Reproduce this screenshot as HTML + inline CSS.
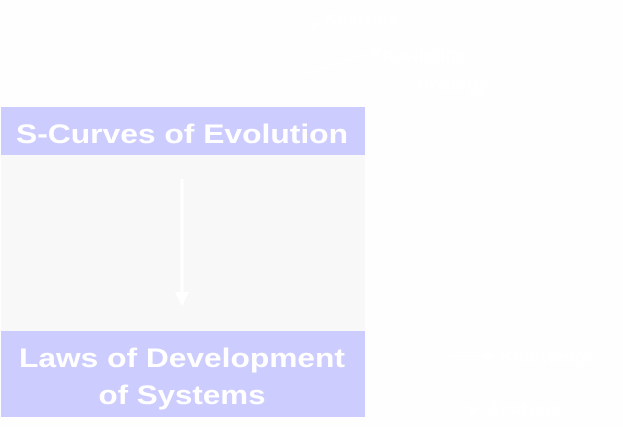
<!DOCTYPE html>
<html><head><style>
html,body{margin:0;padding:0;background:#fff;width:623px;height:427px;overflow:hidden}
</style></head><body>
<svg width="623" height="427" xmlns="http://www.w3.org/2000/svg" font-family="Liberation Sans, sans-serif">
<rect x="0" y="0" width="623" height="427" fill="#fefefe"/>
<rect x="1" y="107" width="364" height="48" fill="#ccccff"/>
<rect x="1" y="155" width="364" height="176" fill="#f8f8f8"/>
<rect x="1" y="331" width="364" height="86" fill="#ccccff"/>
<text x="182" y="143" text-anchor="middle" font-size="27" font-weight="bold" fill="#fff" textLength="332" lengthAdjust="spacingAndGlyphs">S-Curves of Evolution</text>
<text x="182" y="367" text-anchor="middle" font-size="27" font-weight="bold" fill="#fff" textLength="326" lengthAdjust="spacingAndGlyphs">Laws of Development</text>
<text x="182" y="404" text-anchor="middle" font-size="27" font-weight="bold" fill="#fff" textLength="167" lengthAdjust="spacingAndGlyphs">of Systems</text>
<line x1="182" y1="179" x2="182" y2="294" stroke="#fff" stroke-width="3"/>
<polygon points="175,292 189,292 182,306" fill="#fff"/>
<g fill="#fff" font-size="18" font-weight="bold">
<text x="324" y="25">Analysis</text>
<text x="370" y="61">Knowledge</text>
<text x="417" y="90">Analogy</text>
<text x="500" y="363">Knowledge</text>
<text x="487" y="415">Analysis</text>
</g>
<g stroke="#fff" stroke-width="1.5" fill="none">
<line x1="300" y1="35" x2="316" y2="24"/>
<line x1="300" y1="76" x2="360" y2="56"/>
<line x1="300" y1="97" x2="398" y2="83"/>
<line x1="450" y1="356" x2="486" y2="356"/>
<line x1="450" y1="402" x2="473" y2="409"/>
</g>
<g fill="#fff">
<polygon points="310,24 320,21 315,30"/>
<polygon points="356,52 366,53 360,59"/>
<polygon points="484,351 494,356 484,361"/>
<polygon points="470,404 480,410 470,414"/>
</g>
</svg>
</body></html>
